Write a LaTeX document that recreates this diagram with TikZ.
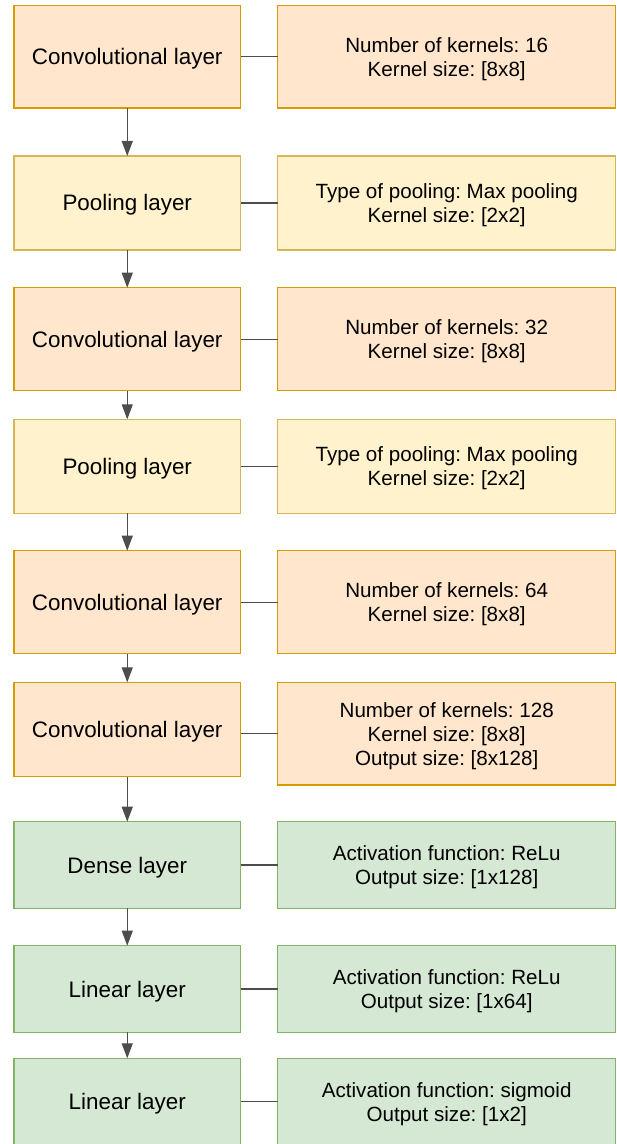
\documentclass[tikz,border=0pt]{standalone}
\usepackage{fontspec}
\setmainfont{Liberation Sans}
\usetikzlibrary{arrows.meta}
\frenchspacing
\definecolor{convfill}{HTML}{FFE6CC}
\definecolor{convdraw}{HTML}{D79B00}
\definecolor{poolfill}{HTML}{FFF2CC}
\definecolor{pooldraw}{HTML}{D6B656}
\definecolor{densefill}{HTML}{D5E8D4}
\definecolor{densedraw}{HTML}{82B366}
\definecolor{linkcol}{HTML}{4D4D4D}
\newcommand\topstrut{\rule{0pt}{9.5pt}}
\tikzset{
  box/.style={rectangle, line width=0.75pt, outer sep=0pt, inner sep=0pt, align=center},
  leftbox/.style={box, minimum width=113.25pt, text height=8pt, text depth=0pt, font=\fontsize{11.2}{13}\selectfont},
  rightbox/.style={box, minimum width=169pt, font=\fontsize{10.3}{12}\selectfont},
  conv/.style={fill=convfill, draw=convdraw},
  pool/.style={fill=poolfill, draw=pooldraw},
  dense/.style={fill=densefill, draw=densedraw},
  link/.style={draw=linkcol, line width=0.6pt},
  arr/.style={link, -{Triangle[length=7.5pt,width=5.5pt]}}
}
\begin{document}
\begin{tikzpicture}[x=0.5pt,y=-0.5pt]
\useasboundingbox (0,0) rectangle (616,1144);
% left column
\node[leftbox,conv,minimum height=51.25pt] (c1) at (127.25,56.75) {Convolutional layer};
\node[leftbox,pool,minimum height=47pt] (p1) at (127.25,203) {Pooling layer};
\node[leftbox,conv,minimum height=51.4pt] (c2) at (127.25,339.1) {Convolutional layer};
\node[leftbox,pool,minimum height=47pt] (p2) at (127.25,466.3) {Pooling layer};
\node[leftbox,conv,minimum height=51.4pt] (c3) at (127.25,602.1) {Convolutional layer};
\node[leftbox,conv,minimum height=47.2pt] (c4) at (127.25,729.5) {Convolutional layer};
\node[leftbox,dense,minimum height=43.3pt] (d1) at (127.25,865) {Dense layer};
\node[leftbox,dense,minimum height=43.3pt] (l1) at (127.25,989) {Linear layer};
\node[leftbox,dense,minimum height=43.5pt] (l2) at (127.25,1101.8) {Linear layer};
% right column
\node[rightbox,conv,minimum height=51.25pt] (rc1) at (446.7,56.75) {\topstrut Number of kernels: 16\\Kernel size: [8x8]};
\node[rightbox,pool,minimum height=47pt] (rp1) at (446.7,203) {\topstrut Type of pooling: Max pooling\\Kernel size: [2x2]};
\node[rightbox,conv,minimum height=51.4pt] (rc2) at (446.7,339.1) {\topstrut Number of kernels: 32\\Kernel size: [8x8]};
\node[rightbox,pool,minimum height=47pt] (rp2) at (446.7,466.3) {\topstrut Type of pooling: Max pooling\\Kernel size: [2x2]};
\node[rightbox,conv,minimum height=51.4pt] (rc3) at (446.7,602.1) {\topstrut Number of kernels: 64\\Kernel size: [8x8]};
\node[rightbox,conv,minimum height=51.35pt] (rc4) at (446.7,733.65) {\topstrut Number of kernels: 128\\Kernel size: [8x8]\\Output size: [8x128]};
\node[rightbox,dense,minimum height=43.3pt] (rd1) at (446.7,865) {\topstrut Activation function: ReLu\\Output size: [1x128]};
\node[rightbox,dense,minimum height=43.3pt] (rl1) at (446.7,989) {\topstrut Activation function: ReLu\\Output size: [1x64]};
\node[rightbox,dense,minimum height=43.5pt] (rl2) at (446.7,1101.8) {\topstrut Activation function: sigmoid\\Output size: [1x2]};
% horizontal links
\draw[link] (c1) -- (rc1);
\draw[link] (p1) -- (rp1);
\draw[link] (c2) -- (rc2);
\draw[link] (p2) -- (rp2);
\draw[link] (c3) -- (rc3);
\draw[link] (c4.east |- rc4.west) -- (rc4.west);
\draw[link] (d1) -- (rd1);
\draw[link] (l1) -- (rl1);
\draw[link] (l2) -- (rl2);
% vertical arrows
\draw[arr] (c1) -- (p1);
\draw[arr] (p1) -- (c2);
\draw[arr] (c2) -- (p2);
\draw[arr] (p2) -- (c3);
\draw[arr] (c3) -- (c4);
\draw[arr] (c4) -- (d1);
\draw[arr] (d1) -- (l1);
\draw[arr] (l1) -- (l2);
\end{tikzpicture}
\end{document}
